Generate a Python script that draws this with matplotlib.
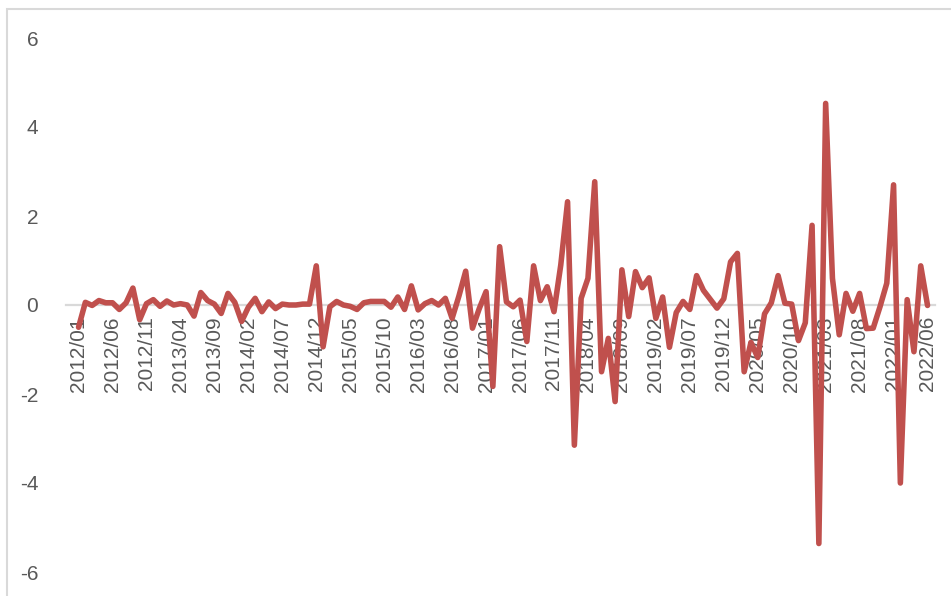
import matplotlib
matplotlib.use("Agg")
import matplotlib.pyplot as plt
from matplotlib.patches import Rectangle
import pandas as pd

# monthly categories 2012/01 .. 2022/06
months = [p.strftime("%Y/%m") for p in pd.period_range("2012-01", "2022-06", freq="M")]

values = [
    -0.50, 0.06, -0.01, 0.10, 0.05, 0.05, -0.10, 0.05, 0.38, -0.33,
    0.03, 0.12, -0.03, 0.09, 0.00, 0.03, 0.00, -0.25, 0.28, 0.10,
    0.02, -0.19, 0.26, 0.06, -0.37, -0.05, 0.15, -0.15, 0.07, -0.08,
    0.02, 0.00, 0.00, 0.02, 0.02, 0.88, -0.94, -0.04, 0.08, 0.00,
    -0.03, -0.10, 0.05, 0.08, 0.08, 0.08, -0.05, 0.18, -0.10, 0.43,
    -0.11, 0.03, 0.10, 0.00, 0.15, -0.30, 0.20, 0.76, -0.52, -0.08,
    0.30, -1.83, 1.31, 0.07, -0.04, 0.11, -0.82, 0.88, 0.10, 0.41,
    -0.15, 0.90, 2.32, -3.15, 0.15, 0.60, 2.77, -1.50, -0.75, -2.17,
    0.79, -0.26, 0.75, 0.39, 0.61, -0.30, 0.18, -0.95, -0.17, 0.08,
    -0.10, 0.66, 0.33, 0.13, -0.07, 0.14, 0.97, 1.16, -1.50, -0.84,
    -1.18, -0.20, 0.05, 0.66, 0.04, 0.02, -0.80, -0.40, 1.79, -5.36,
    4.53, 0.60, -0.67, 0.26, -0.14, 0.26, -0.53, -0.52, -0.04, 0.49,
    2.70, -4.00, 0.12, -1.05, 0.88, -0.01,
]

yticks = [-6, -4, -2, 0, 2, 4, 6]
label_step = 5

plt.rcParams["font.family"] = ["Liberation Sans", "DejaVu Sans"]
plt.rcParams["axes.unicode_minus"] = False

W, H = 951, 596
fig = plt.figure(figsize=(W / 100, H / 100), dpi=100)
ax = fig.add_axes([66 / W, 24 / H, (935 - 66) / W, (572 - 38) / H])

x = list(range(len(months)))
ax.plot(x, values, color="#C0504D", lw=4.0, solid_joinstyle="round",
        solid_capstyle="round", zorder=3)

ax.set_ylim(-6, 6)
ax.set_xlim(-1.85, len(months) - 1 + 1.1)

for side in ("top", "right", "left"):
    ax.spines[side].set_visible(False)
ax.spines["bottom"].set_position(("data", 0))
ax.spines["bottom"].set_color("#D9D9D9")
ax.spines["bottom"].set_linewidth(1.6)
ax.spines["bottom"].set_zorder(1)

ax.set_yticks(yticks)
ax.set_yticklabels([str(v) for v in yticks])
ax.set_xticks(x[::label_step])
ax.set_xticklabels(months[::label_step], rotation=90)
ax.tick_params(axis="x", length=0, pad=8, labelsize=15, labelcolor="#595959")
ax.tick_params(axis="y", length=0, pad=20, labelsize=15, labelcolor="#595959")

# chart area border
fig.patches.append(Rectangle((6.5 / W, -0.1), 1.2, 1.1 - 8.5 / H,
                             transform=fig.transFigure, fill=False,
                             ec="#D9D9D9", lw=1.5))

fig.savefig("out.png", dpi=100)
